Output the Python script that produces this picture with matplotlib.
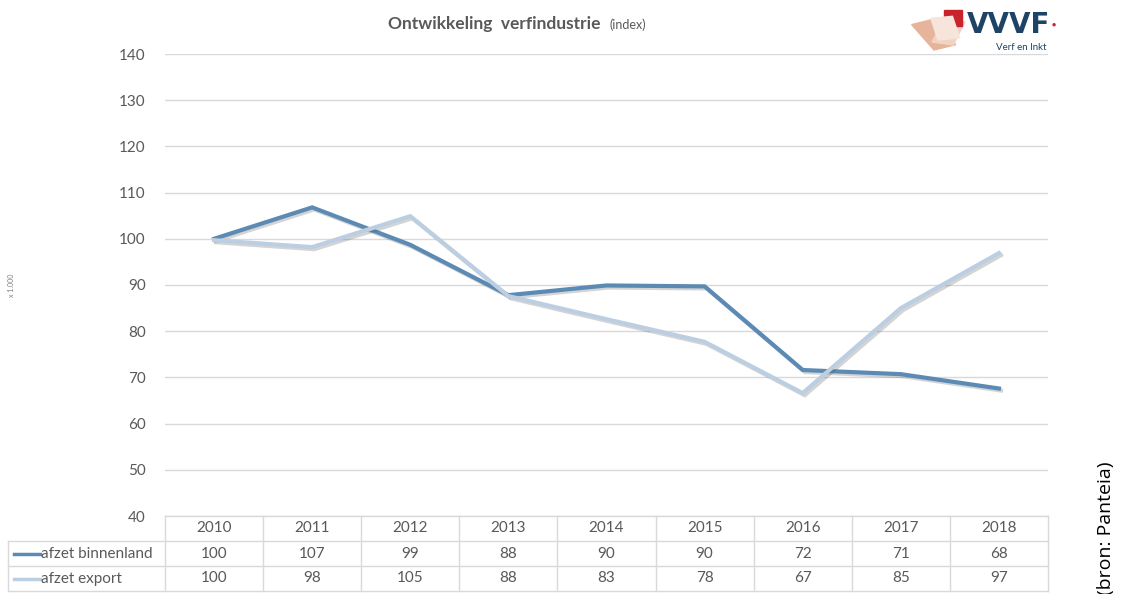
import matplotlib.pyplot as plt
import matplotlib.patheffects as pe
from matplotlib.patches import Rectangle
from matplotlib.lines import Line2D

plt.rcParams['font.family'] = ['Lato', 'DejaVu Sans']

years = ['2010', '2011', '2012', '2013', '2014', '2015', '2016', '2017', '2018']
binnenland = [100, 106.8, 98.7, 87.8, 89.9, 89.7, 71.6, 70.7, 67.6]
export = [99.7, 98.2, 104.9, 87.6, 82.6, 77.7, 66.6, 85.0, 96.9]
series_names = ['afzet binnenland', 'afzet export']
colors = ['#5b8ab4', '#bccfe2']

fig = plt.figure(figsize=(11.21, 5.94), dpi=100)
ax = fig.add_axes([165 / 1121, 1 - 516 / 594, 883 / 1121, 462 / 594])

x = list(range(len(years)))
shadow = [pe.SimpleLineShadow(offset=(1.5, -1.5), alpha=0.25, shadow_color='#555555'), pe.Normal()]
ax.plot(x, binnenland, color=colors[0], lw=3, path_effects=shadow, solid_joinstyle='miter', zorder=3)
ax.plot(x, export, color=colors[1], lw=3, path_effects=shadow, solid_joinstyle='miter', zorder=3)

ax.set_xlim(-0.5, len(years) - 0.5)
ax.set_ylim(40, 140)
ax.set_yticks(range(40, 141, 10))
ax.yaxis.grid(True, color='#d9d9d9', lw=1)
ax.set_axisbelow(True)
ax.set_xticks([])
for s in ax.spines.values():
    s.set_visible(False)
ax.tick_params(axis='y', length=0, pad=14, labelsize=11, labelcolor='#595959')

# data table under the chart
tr = ax.get_xaxis_transform()
rh = 25 / 462
grid_c = '#d9d9d9'
left = -157 / 883  # legend column left edge in axes fraction
ncol = len(years)
for k in range(4):
    y = -k * rh
    if k == 0:
        ax.add_line(Line2D([-0.5, ncol - 0.5], [y, y], transform=tr, color=grid_c, lw=1, clip_on=False))
    else:
        ax.add_line(Line2D([left, 1], [y, y], transform=ax.transAxes, color=grid_c, lw=1, clip_on=False))
for j in range(ncol + 1):
    ax.add_line(Line2D([j - 0.5, j - 0.5], [0, -3 * rh], transform=tr, color=grid_c, lw=1, clip_on=False))
ax.add_line(Line2D([left, left], [-rh, -3 * rh], transform=ax.transAxes, color=grid_c, lw=1, clip_on=False))

for j, yr in enumerate(years):
    ax.text(j, -0.5 * rh, yr, transform=tr, ha='center', va='center', fontsize=11, color='#595959')
    ax.text(j, -1.5 * rh, '%d' % round(binnenland[j]), transform=tr, ha='center', va='center', fontsize=11, color='#595959')
    ax.text(j, -2.5 * rh, '%d' % round(export[j]), transform=tr, ha='center', va='center', fontsize=11, color='#595959')

for i, name in enumerate(series_names):
    yc = -(1.5 + i) * rh
    ax.add_line(Line2D([left + 6 / 883, left + 32 / 883], [yc, yc], transform=ax.transAxes,
                       color=colors[i], lw=2.5, clip_on=False))
    ax.text(left + 33 / 883, yc, name, transform=ax.transAxes, ha='left', va='center',
            fontsize=11, color='#595959')

# title
fig.text(388 / 1121, 1 - 24 / 594, 'Ontwikkeling  verfindustrie', ha='left', va='center',
         fontsize=12.5, fontweight='bold', color='#595959')
fig.text(610 / 1121, 1 - 25 / 594, '(index)', ha='left', va='center', fontsize=9, color='#595959')

# unit label
fig.text(12 / 1121, 1 - 285 / 594, 'x 1.000', rotation=90, ha='center', va='center',
         fontsize=5, color='#7f7f7f')

# source
fig.text(1106 / 1121, 1 - 528 / 594, '(bron: Panteia)', rotation=90, ha='center', va='center',
         fontsize=14, color='black', family=['Open Sans', 'DejaVu Sans'])

# logo
for (lx, ly, lw_, lh, ang, c) in [(934, 50, 24, 28, 25, '#e6b49b'), (932, 42, 22, 24, -15, '#f2d2c2'),
                                  (944, 26, 18, 16, 0, '#c9232e'), (938, 40, 22, 22, 10, '#f7e4da')]:
    fig.add_artist(Rectangle((lx / 1121, 1 - ly / 594), lw_ / 1121, lh / 594, angle=ang,
                             transform=fig.transFigure, color=c, zorder=5))
fig.text(967 / 1121, 1 - 25 / 594, 'VVVF', ha='left', va='center', fontsize=20, fontweight='bold',
         color='#1d4466', family=['DejaVu Sans Condensed', 'DejaVu Sans'])
fig.text(1052 / 1121, 1 - 24 / 594, '\u25cf', ha='left', va='center', fontsize=5, color='#c9232e')
fig.text(1047 / 1121, 1 - 48 / 594, 'Verf en Inkt', ha='right', va='center', fontsize=7, color='#1d4466')

fig.savefig('out.png', dpi=100)
